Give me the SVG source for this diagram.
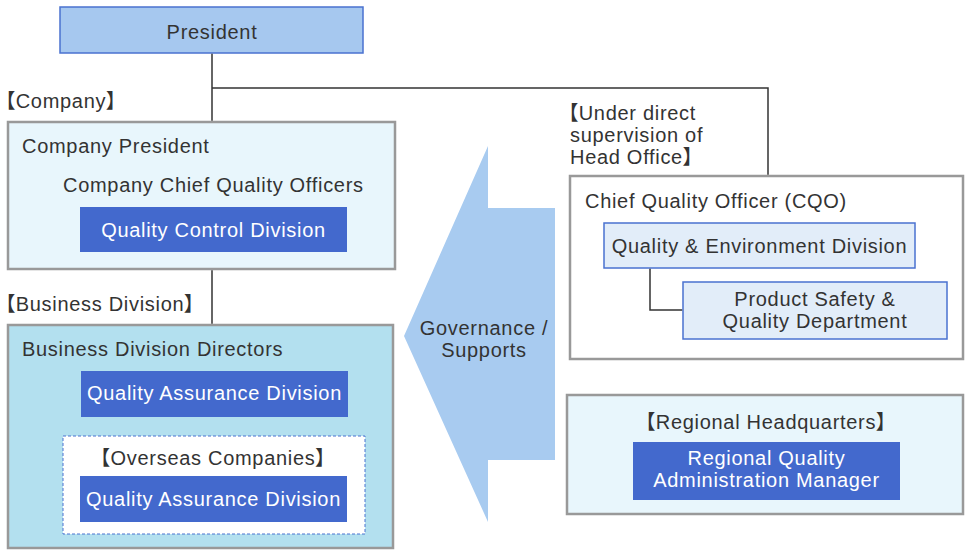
<svg xmlns="http://www.w3.org/2000/svg" width="965" height="550" viewBox="0 0 965 550">
<style>
text{font-family:"Liberation Sans","Noto Sans CJK JP",sans-serif;font-size:20px;fill:#333;letter-spacing:0.7px;font-feature-settings:"palt"}
.w{fill:#fff}
.c{text-anchor:middle}
.grey{fill:#e8f6fc;stroke:#999;stroke-width:2.5}
.blue{fill:#4369cd}
.lb{fill:#e2edf9;stroke:#4a72d0;stroke-width:1.5}
.ln{fill:none;stroke:#333;stroke-width:1.5}
</style>
<g id="arrow">
<polygon points="488,146 488,208 555,208 555,460 488,460 488,522 404,336" fill="#a8cbf0"/>
<text class="c" x="484" y="335">Governance /</text>
<text class="c" x="484" y="357">Supports</text>
</g>
<g id="president">
<rect x="60" y="7" width="303" height="46" fill="#a6c8ef" stroke="#4a72d0" stroke-width="1.5"/>
<text class="c" x="212" y="39">President</text>
</g>
<g id="company">
<text x="5" y="108">【Company】</text>
<rect class="grey" x="8" y="122" width="387" height="147"/>
<text x="22" y="153">Company President</text>
<text x="63" y="192">Company Chief Quality Officers</text>
<rect class="blue" x="80" y="207" width="267" height="45"/>
<text class="c w" x="213.5" y="237">Quality Control Division</text>
</g>
<g id="business">
<text x="5" y="311">【Business Division】</text>
<rect class="grey" x="8" y="325" width="385" height="223" style="fill:#b3e0ef"/>
<text x="22" y="356">Business Division Directors</text>
<rect class="blue" x="81" y="371" width="267" height="46"/>
<text class="c w" x="214.5" y="400">Quality Assurance Division</text>
</g>
<g id="overseas">
<rect x="63" y="436" width="302" height="98" fill="#fff" stroke="#4a72d0" stroke-width="1" stroke-dasharray="3,2"/>
<text class="c" x="213" y="465">【Overseas Companies】</text>
<rect class="blue" x="80" y="476" width="267" height="46"/>
<text class="c w" x="213.5" y="506">Quality Assurance Division</text>
</g>
<g id="head-office">
<text x="568" y="120">【Under direct</text>
<text x="570" y="142">supervision of</text>
<text x="570" y="164">Head Office】</text>
</g>
<g id="cqo">
<rect class="grey" x="570" y="176" width="393" height="183" style="fill:#fff"/>
<text x="585" y="208">Chief Quality Officer (CQO)</text>
</g>
<g id="qe-division">
<rect class="lb" x="604" y="223" width="311" height="45"/>
<text class="c" x="759.5" y="253">Quality &amp; Environment Division</text>
</g>
<g id="product-safety">
<rect class="lb" x="683" y="282" width="264" height="57"/>
<text class="c" x="815" y="306">Product Safety &amp;</text>
<text class="c" x="815" y="328">Quality Department</text>
</g>
<g id="regional">
<rect class="grey" x="567" y="395" width="396" height="119"/>
<text class="c" x="766" y="429">【Regional Headquarters】</text>
<rect class="blue" x="633" y="442" width="267" height="58"/>
<text class="c w" x="766.5" y="465">Regional Quality</text>
<text class="c w" x="766.5" y="487">Administration Manager</text>
</g>
<g id="connectors">
<polyline class="ln" points="212,53.8 212,120.8"/>
<polyline class="ln" points="212,88 768,88 768,174.8"/>
<polyline class="ln" points="212,270.2 212,323.8"/>
<polyline class="ln" points="650,268.8 650,310 682.2,310"/>
</g>
</svg>
